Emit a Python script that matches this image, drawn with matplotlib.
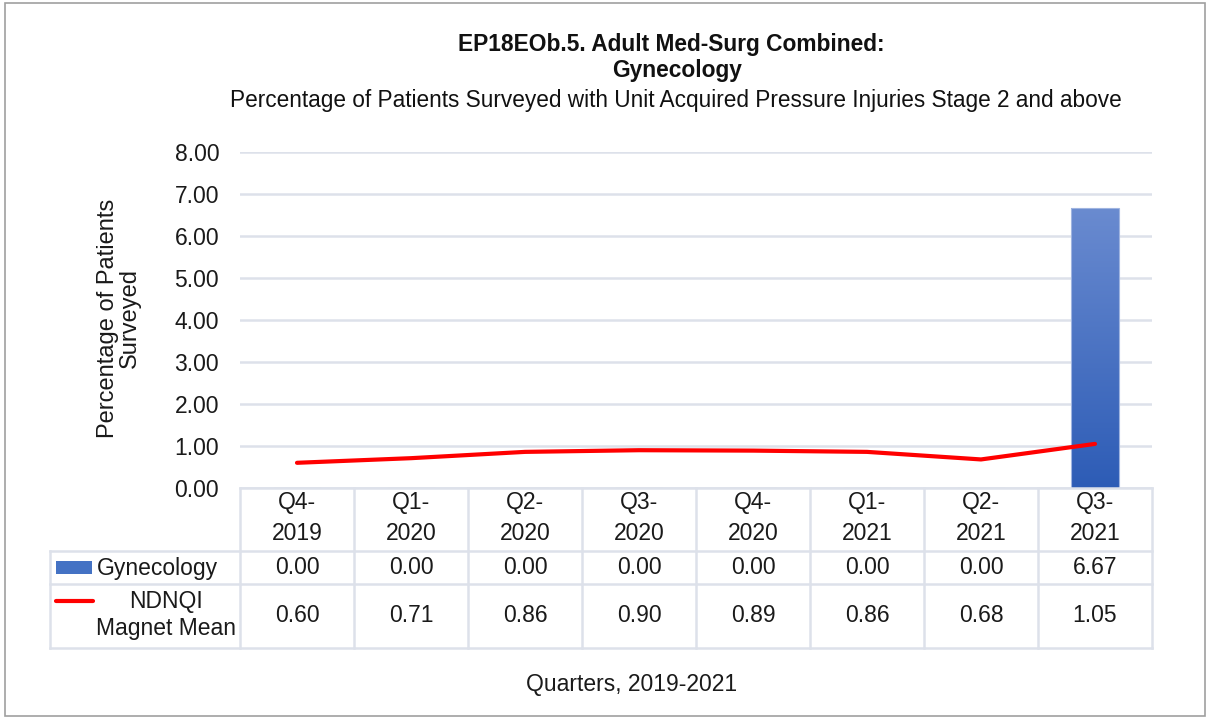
import numpy as np
import matplotlib
matplotlib.use("Agg")
import matplotlib.pyplot as plt
from matplotlib.transforms import Affine2D, blended_transform_factory
from matplotlib.patches import Rectangle

plt.rcParams['font.family'] = ['Liberation Sans', 'DejaVu Sans']

categories = ["Q4-\n2019", "Q1-\n2020", "Q2-\n2020", "Q3-\n2020", "Q4-\n2020", "Q1-\n2021", "Q2-\n2021", "Q3-\n2021"]
gynecology = [0.00, 0.00, 0.00, 0.00, 0.00, 0.00, 0.00, 6.67]
ndnqi = [0.60, 0.71, 0.86, 0.90, 0.89, 0.86, 0.68, 1.05]
yticks = [0, 1, 2, 3, 4, 5, 6, 7, 8]
series_names = ["Gynecology", "NDNQI\nMagnet Mean"]

W, H = 1210, 719
FS = 16.5
TC = '#1a1a1a'
fig = plt.figure(figsize=(W / 100, H / 100), dpi=100)
pix = Affine2D().scale(1, -1).translate(0, H)  # top-origin pixel -> display

# outer border
fig.patches.append(Rectangle((5, 3), 1200, 713, transform=pix, fill=False,
                             edgecolor='#a0a0a0', linewidth=1.2))

ax = fig.add_axes([240 / W, (H - 488) / H, 912 / W, 336 / H])
n = len(categories)
x = np.arange(n)
ax.set_xlim(-0.5, n - 0.5)
ax.set_ylim(0, 8)
ax.set_yticks(yticks)
ax.set_yticklabels([f"{v:.2f}" for v in yticks], fontsize=FS, color=TC)
ax.tick_params(axis='y', length=0, pad=15)
ax.set_xticks([])
for s in ax.spines.values():
    s.set_visible(False)
ax.grid(axis='y', color='#dde1ea', linewidth=1.8)
ax.set_axisbelow(True)

# bars with gradient
cmap = matplotlib.colors.LinearSegmentedColormap.from_list('g', ['#2d5cb6', '#6a8bd0'])
bars = ax.bar(x, gynecology, width=0.42, color='none', edgecolor='#9fb4e0', linewidth=0.8, zorder=2)
for b, v in zip(bars, gynecology):
    if v <= 0:
        continue
    x0 = b.get_x()
    grad = np.linspace(0, 1, 256).reshape(-1, 1)
    im = ax.imshow(grad, extent=(x0, x0 + b.get_width(), 0, v), origin='lower',
                   aspect='auto', cmap=cmap, zorder=1.5)
    im.set_clip_path(b)
ax.set_xlim(-0.5, n - 0.5)
ax.set_ylim(0, 8)

ax.plot(x, ndnqi, color='#ff0000', linewidth=3, solid_joinstyle='round',
        solid_capstyle='round', zorder=3)

# y label
fig.text(119 / W, 1 - 318 / H, "Percentage of Patients\nSurveyed", rotation=90,
         ha='center', va='center', fontsize=17, color=TC, linespacing=1.0)

# titles
fig.text(671 / W, 1 - 45 / H, "EP18EOb.5. Adult Med-Surg Combined:", ha='center', va='center',
         fontsize=16.4, fontweight='bold', color='#111111')
fig.text(677 / W, 1 - 70 / H, "Gynecology", ha='center', va='center',
         fontsize=16.4, fontweight='bold', color='#111111')
fig.text(676 / W, 1 - 100 / H,
         "Percentage of Patients Surveyed with Unit Acquired Pressure Injuries Stage 2 and above",
         ha='center', va='center', fontsize=16.3, color='#111111')

# data table
bt = blended_transform_factory(ax.transData, pix)
gc = '#dde1ea'
lw = 1.8
ax.plot([-0.5, n - 0.5], [488, 488], transform=bt, color=gc, lw=lw, clip_on=False)
for yy in [551, 584, 648]:
    fig.add_artist(plt.Line2D([50, 1152], [yy, yy], transform=pix, color=gc, lw=lw))
for i in range(n + 1):
    ax.plot([i - 0.5, i - 0.5], [488, 648], transform=bt, color=gc, lw=lw, clip_on=False)
fig.add_artist(plt.Line2D([50, 50], [551, 648], transform=pix, color=gc, lw=lw))

for i in range(n):
    ax.text(i, 518, categories[i], transform=bt, ha='center', va='center',
            fontsize=FS, color=TC, linespacing=1.5)
    ax.text(i, 568, f"{gynecology[i]:.2f}", transform=bt, ha='center', va='center',
            fontsize=FS, color=TC)
    ax.text(i, 615, f"{ndnqi[i]:.2f}", transform=bt, ha='center', va='center',
            fontsize=FS, color=TC)

# legend column
fig.patches.append(Rectangle((56, 561), 36, 13, transform=pix, facecolor='#4472c4',
                             edgecolor='none'))
fig.add_artist(plt.Line2D([56, 93], [601, 601], transform=pix, color='#ff0000', lw=3,
                          solid_capstyle='round'))
fig.text(97 / W, 1 - 568 / H, series_names[0], ha='left', va='center', fontsize=FS,
         color=TC)
fig.text(166 / W, 1 - 615 / H, series_names[1], ha='center', va='center', fontsize=FS,
         color=TC, linespacing=1.25)

fig.text(632 / W, 1 - 684 / H, "Quarters, 2019-2021", ha='center', va='center',
         fontsize=FS, color=TC)

fig.savefig("out.png", dpi=100)
